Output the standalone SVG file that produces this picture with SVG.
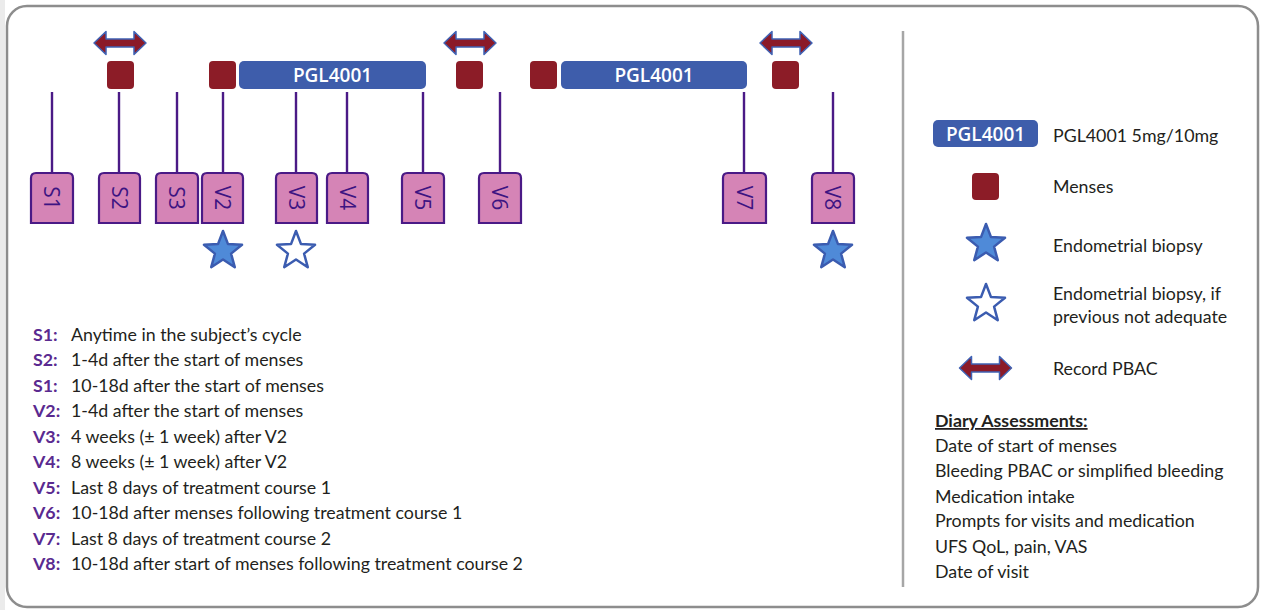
<svg xmlns="http://www.w3.org/2000/svg" width="1261" height="610" viewBox="0 0 1261 610">
<style>
.t{font-family:Lato,"Liberation Sans",sans-serif;font-size:17.8px;fill:#231f20}
.lb{font-family:Lato,"Liberation Sans",sans-serif;font-size:17.8px;font-weight:700;fill:#5a2a90}
.pgl{font-family:"Open Sans","Liberation Sans",sans-serif;font-size:19px;font-weight:600;fill:#ffffff;text-anchor:middle}
.vt{font-family:"Open Sans","Liberation Sans",sans-serif;font-size:21px;font-weight:500;fill:#3d1482;text-anchor:middle;dominant-baseline:central}
.bar{fill:#3e5dab}
.men{fill:#8c1c27}
.box{fill:#d584b6;stroke:#4a1a86;stroke-width:2.2}
.vl{stroke:#4a1a86;stroke-width:2.4;fill:none}
.dbl{fill:#8b1a28;stroke:#3f62b4;stroke-width:1.5;stroke-linejoin:round}
.sf{fill:#4f8ad8;stroke:#3b5cb0;stroke-width:2.5;stroke-linejoin:round}
.so{fill:#ffffff;stroke:#3b5cb0;stroke-width:2.5;stroke-linejoin:round}
</style>
<defs>
<path id="star" d="M0,-20 L5,-6.88 L19.02,-6.18 L8.08,2.63 L11.76,16.18 L0,8.5 L-11.76,16.18 L-8.08,2.63 L-19.02,-6.18 L-5,-6.88 Z"/>
<path id="arr" d="M-26,0 L-14,-11.5 L-14,-4 L14,-4 L14,-11.5 L26,0 L14,11.5 L14,4 L-14,4 L-14,11.5 Z"/>
</defs>
<rect x="0" y="0" width="1261" height="610" fill="#ffffff"/>
<rect x="0" y="0" width="5" height="610" fill="#ebebeb"/>
<rect x="7" y="6" width="1251" height="601" rx="20" fill="#ffffff" stroke="#8d8d8d" stroke-width="2.5"/>
<line x1="903" y1="31" x2="903" y2="587" stroke="#a6a6a6" stroke-width="2.5"/>

<g id="connectors">
<line class="vl" x1="52" y1="92" x2="52" y2="173"/>
<line class="vl" x1="119" y1="92" x2="119" y2="173"/>
<line class="vl" x1="177" y1="92" x2="177" y2="173"/>
<line class="vl" x1="223" y1="92" x2="223" y2="173"/>
<line class="vl" x1="296" y1="92" x2="296" y2="173"/>
<line class="vl" x1="347" y1="92" x2="347" y2="173"/>
<line class="vl" x1="423" y1="92" x2="423" y2="173"/>
<line class="vl" x1="500" y1="92" x2="500" y2="173"/>
<line class="vl" x1="744" y1="92" x2="744" y2="173"/>
<line class="vl" x1="833" y1="92" x2="833" y2="173"/>
</g>

<g id="pbac-arrows">
<use href="#arr" class="dbl" x="120" y="43"/>
<use href="#arr" class="dbl" x="470" y="43"/>
<use href="#arr" class="dbl" x="786" y="43"/>
</g>

<g id="menses">
<rect class="men" x="107" y="61" width="27" height="28" rx="4"/>
<rect class="men" x="209" y="61" width="27" height="28" rx="4"/>
<rect class="men" x="456" y="61" width="27" height="28" rx="4"/>
<rect class="men" x="530" y="61" width="27" height="28" rx="4"/>
<rect class="men" x="772" y="61" width="27" height="28" rx="4"/>
</g>

<g id="treatment1">
<rect class="bar" x="239" y="61" width="187" height="28" rx="5"/>
<text class="pgl" x="332.5" y="81.5">PGL4001</text>
</g>
<g id="treatment2">
<rect class="bar" x="561" y="61" width="186" height="28" rx="5"/>
<text class="pgl" x="654" y="81.5">PGL4001</text>
</g>

<g id="S1"><path class="box" d="M31,223 V178 Q31,173 36,173 H68 Q73,173 73,178 V223 Z"/><text class="vt" transform="translate(52,198) rotate(90)">S1</text></g>
<g id="S2"><path class="box" d="M99,223 V178 Q99,173 104,173 H135 Q140,173 140,178 V223 Z"/><text class="vt" transform="translate(119.5,198) rotate(90)">S2</text></g>
<g id="S3"><path class="box" d="M156,223 V178 Q156,173 161,173 H193 Q198,173 198,178 V223 Z"/><text class="vt" transform="translate(177,198) rotate(90)">S3</text></g>
<g id="V2"><path class="box" d="M202,223 V178 Q202,173 207,173 H238 Q243,173 243,178 V223 Z"/><text class="vt" transform="translate(222.5,198) rotate(90)">V2</text></g>
<g id="V3"><path class="box" d="M276,223 V178 Q276,173 281,173 H312 Q317,173 317,178 V223 Z"/><text class="vt" transform="translate(296.5,198) rotate(90)">V3</text></g>
<g id="V4"><path class="box" d="M327,223 V178 Q327,173 332,173 H363 Q368,173 368,178 V223 Z"/><text class="vt" transform="translate(347.5,198) rotate(90)">V4</text></g>
<g id="V5"><path class="box" d="M402,223 V178 Q402,173 407,173 H439 Q444,173 444,178 V223 Z"/><text class="vt" transform="translate(423,198) rotate(90)">V5</text></g>
<g id="V6"><path class="box" d="M479,223 V178 Q479,173 484,173 H516 Q521,173 521,178 V223 Z"/><text class="vt" transform="translate(500,198) rotate(90)">V6</text></g>
<g id="V7"><path class="box" d="M723,223 V178 Q723,173 728,173 H761 Q766,173 766,178 V223 Z"/><text class="vt" transform="translate(744.5,198) rotate(90)">V7</text></g>
<g id="V8"><path class="box" d="M812,223 V178 Q812,173 817,173 H849 Q854,173 854,178 V223 Z"/><text class="vt" transform="translate(833,198) rotate(90)">V8</text></g>

<g id="biopsies">
<use href="#star" class="sf" x="223" y="251"/>
<use href="#star" class="so" x="296" y="251"/>
<use href="#star" class="sf" x="833" y="251"/>
</g>

<g id="visit-list">
<text class="lb" x="33" y="341">S1:</text><text class="t" x="71" y="341">Anytime in the subject’s cycle</text>
<text class="lb" x="33" y="366">S2:</text><text class="t" x="71" y="366">1-4d after the start of menses</text>
<text class="lb" x="33" y="392">S1:</text><text class="t" x="71" y="392">10-18d after the start of menses</text>
<text class="lb" x="33" y="417">V2:</text><text class="t" x="71" y="417">1-4d after the start of menses</text>
<text class="lb" x="33" y="443">V3:</text><text class="t" x="71" y="443">4 weeks (± 1 week) after V2</text>
<text class="lb" x="33" y="468">V4:</text><text class="t" x="71" y="468">8 weeks (± 1 week) after V2</text>
<text class="lb" x="33" y="494">V5:</text><text class="t" x="71" y="494">Last 8 days of treatment course 1</text>
<text class="lb" x="33" y="519">V6:</text><text class="t" x="71" y="519">10-18d after menses following treatment course 1</text>
<text class="lb" x="33" y="545">V7:</text><text class="t" x="71" y="545">Last 8 days of treatment course 2</text>
<text class="lb" x="33" y="570">V8:</text><text class="t" x="71" y="570">10-18d after start of menses following treatment course 2</text>
</g>

<g id="legend">
<g id="legend-pgl"><rect class="bar" x="933" y="120" width="105" height="27" rx="5"/><text class="pgl" x="985.5" y="140.5">PGL4001</text><text class="t" x="1053" y="142">PGL4001 5mg/10mg</text></g>
<g id="legend-menses"><rect class="men" x="972" y="173" width="27" height="27" rx="4"/><text class="t" x="1053" y="193">Menses</text></g>
<g id="legend-biopsy"><use href="#star" class="sf" x="986" y="244"/><text class="t" x="1053" y="252">Endometrial biopsy</text></g>
<g id="legend-biopsy2"><use href="#star" class="so" x="986" y="304"/><text class="t" x="1053" y="300">Endometrial biopsy, if</text><text class="t" x="1053" y="323">previous not adequate</text></g>
<g id="legend-pbac"><use href="#arr" class="dbl" x="985.5" y="368"/><text class="t" x="1053" y="375">Record PBAC</text></g>
</g>

<g id="diary">
<text class="t" x="935" y="427" style="font-weight:700" text-decoration="underline">Diary Assessments:</text>
<text class="t" x="935" y="452">Date of start of menses</text>
<text class="t" x="935" y="477">Bleeding PBAC or simplified bleeding</text>
<text class="t" x="935" y="503">Medication intake</text>
<text class="t" x="935" y="527">Prompts for visits and medication</text>
<text class="t" x="935" y="553">UFS QoL, pain, VAS</text>
<text class="t" x="935" y="578">Date of visit</text>
</g>
</svg>
